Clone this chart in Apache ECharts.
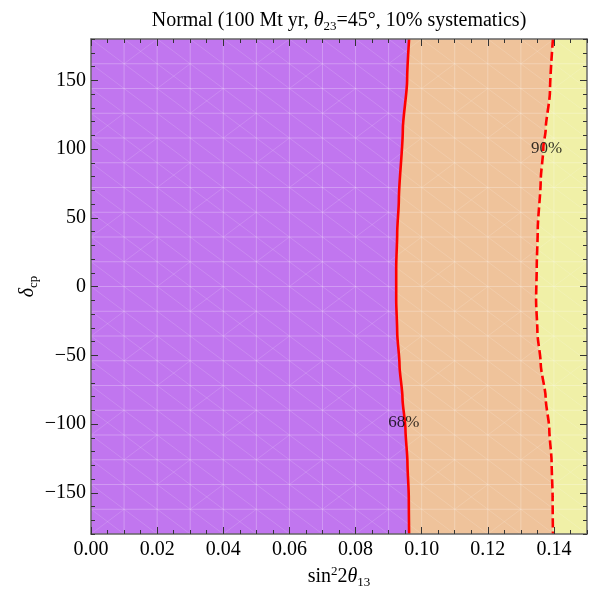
<!DOCTYPE html>
<html>
<head>
<meta charset="utf-8">
<script src="https://cdn.jsdelivr.net/npm/echarts@6/dist/echarts.min.js"></script>
<style>
  html, body { margin: 0; padding: 0; background: #ffffff; }
  #chart { width: 596px; height: 591px; }
</style>
</head>
<body>
<div id="chart"></div>
<script>
// Sensitivity contours in the (sin^2 2θ13, δcp) plane, listed from δcp = 180 down to −180
const delta68 = [180, 150, 114, 63, 39, 14, -10, -33, -57, -81, -104, -128, -153, -180];
const sin68   = [0.0962, 0.0956, 0.0943, 0.0931, 0.0926, 0.0923, 0.0923, 0.0926, 0.0933, 0.0942, 0.0951, 0.0957, 0.0961, 0.0962];
const delta90 = [180, 142, 114, 101, 77, 41, 14, -10, -33, -56, -81, -104, -128, -153, -180];
const sin90   = [0.1397, 0.1388, 0.1375, 0.1368, 0.1360, 0.1351, 0.1348, 0.1346, 0.1350, 0.1360, 0.1375, 0.1386, 0.1393, 0.1396, 0.1397];

// Contour labels
const contourNames = ['68%', '90%'];
const contourLabelSin = [0.0946, 0.1378];
const contourLabelDelta = [-99, 100];

// Axis ranges and tick labels
const sinRange = [0, 0.15];
const deltaRange = [-180, 180];
const sinTicks = [0, 0.02, 0.04, 0.06, 0.08, 0.10, 0.12, 0.14];
const deltaTicks = [-150, -100, -50, 0, 50, 100, 150];

const FONT = '"Liberation Serif", "Times New Roman", serif';
const FS = 20;
const regionColors = ['#c176ef', '#efc39b', '#f0f0a7'];

const c68 = delta68.map((d, i) => [sin68[i], d]);
const c90 = delta90.map((d, i) => [sin90[i], d]);

function regionPoints(k) {
  const [x0, x1] = sinRange;
  const [d0, d1] = deltaRange;
  if (k === 0) return [[x0, d1]].concat(c68, [[x0, d0]]);
  if (k === 1) return c68.concat(c90.slice().reverse());
  return c90.concat([[x1, d0], [x1, d1]]);
}

// Faint triangulation mesh drawn over the filled regions
function meshItem(params, api) {
  const children = [];
  const nx = 15, ny = 20;
  const dx = 0.01, dd = 18;
  const gridStyle = { stroke: 'rgba(255,255,255,0.26)', lineWidth: 1 };
  const diagStyle = { stroke: 'rgba(255,255,255,0.18)', lineWidth: 0.8 };
  const seg = (a, b, style) => {
    const p = api.coord(a), q = api.coord(b);
    children.push({ type: 'line', shape: { x1: p[0], y1: p[1], x2: q[0], y2: q[1] }, style });
  };
  for (let i = 1; i < nx; i++) seg([i * dx, deltaRange[0]], [i * dx, deltaRange[1]], gridStyle);
  for (let j = 1; j < ny; j++) seg([sinRange[0], deltaRange[0] + j * dd], [sinRange[1], deltaRange[0] + j * dd], gridStyle);
  for (let i = 0; i < nx; i++) {
    for (let j = 0; j < ny; j++) {
      const xa = i * dx, xb = (i + 1) * dx;
      const da = deltaRange[0] + j * dd, db = da + dd;
      seg([xa, db], [xb, da], diagStyle);
      if ((i + j) % 4 === 0) seg([xa, da], [xb, db], diagStyle);
    }
  }
  return { type: 'group', children };
}

const tickColor = '#333';
const frameLine = { show: true, onZero: false, lineStyle: { color: '#666', width: 1.5 } };

function xAxisPair(position) {
  return [
    {
      type: 'value', position, min: sinRange[0], max: sinRange[1], interval: 0.005, z: 10,
      axisLine: frameLine,
      axisTick: { show: true, inside: true, length: 4, lineStyle: { color: tickColor, width: 1 } },
      axisLabel: position === 'bottom' ? {
        show: true, customValues: sinTicks, margin: 6,
        formatter: v => v.toFixed(2),
        fontFamily: FONT, fontSize: FS, color: '#000'
      } : { show: false },
      splitLine: { show: false },
      name: position === 'bottom' ? 'sin{sup|2}2{it|θ}{sub|13}' : '',
      nameLocation: 'middle', nameGap: 31, nameMoveOverlap: false,
      nameTextStyle: {
        fontFamily: FONT, fontSize: FS, color: '#000', lineHeight: 24,
        rich: {
          sup: { fontFamily: FONT, fontSize: 13, lineHeight: 14, verticalAlign: 'top', color: '#000' },
          it: { fontFamily: FONT, fontSize: FS, fontStyle: 'italic', lineHeight: 24, color: '#000' },
          sub: { fontFamily: FONT, fontSize: 13, lineHeight: 14, verticalAlign: 'bottom', color: '#000' }
        }
      }
    },
    {
      type: 'value', position, min: sinRange[0], max: sinRange[1], z: 10,
      axisLine: { show: false, onZero: false },
      axisTick: { show: true, inside: true, length: 7, customValues: sinTicks, lineStyle: { color: tickColor, width: 1 } },
      axisLabel: { show: false },
      splitLine: { show: false }
    }
  ];
}

function yAxisPair(position) {
  return [
    {
      type: 'value', position, min: deltaRange[0], max: deltaRange[1], interval: 10, z: 10,
      axisLine: frameLine,
      axisTick: { show: true, inside: true, length: 4, lineStyle: { color: tickColor, width: 1 } },
      axisLabel: position === 'left' ? {
        show: true, customValues: deltaTicks, margin: 5,
        formatter: v => (v < 0 ? '\u2212' + Math.abs(v) : String(v)),
        fontFamily: FONT, fontSize: FS, color: '#000'
      } : { show: false },
      splitLine: { show: false },
      name: position === 'left' ? '{it|δ}{sub|cp}' : '',
      nameLocation: 'middle', nameRotate: 90, nameGap: 51, nameMoveOverlap: false,
      nameTextStyle: {
        fontFamily: FONT, fontSize: FS, color: '#000', lineHeight: 24,
        rich: {
          it: { fontFamily: FONT, fontSize: FS, fontStyle: 'italic', lineHeight: 24, color: '#000' },
          sub: { fontFamily: FONT, fontSize: 13, lineHeight: 14, verticalAlign: 'bottom', color: '#000' }
        }
      }
    },
    {
      type: 'value', position, min: deltaRange[0], max: deltaRange[1], z: 10,
      axisLine: { show: false, onZero: false },
      axisTick: { show: true, inside: true, length: 7, customValues: deltaTicks, lineStyle: { color: tickColor, width: 1 } },
      axisLabel: { show: false },
      splitLine: { show: false }
    }
  ];
}

const chart = echarts.init(document.getElementById('chart'), null, { renderer: 'canvas' });

chart.setOption({
  animation: false,
  backgroundColor: '#ffffff',
  grid: { left: 91, top: 39, width: 496, height: 495, containLabel: false, outerBoundsMode: 'none' },
  graphic: [{
    type: 'text', x: 339, y: 21, z: 10,
    style: {
      text: 'Normal (100 Mt yr, {it|θ}{sub|23}=45°, 10% systematics)',
      align: 'center', verticalAlign: 'middle',
      fontFamily: FONT, fontSize: FS, lineHeight: 24, fill: '#000',
      rich: {
        it: { fontFamily: FONT, fontSize: FS, fontStyle: 'italic', lineHeight: 24, fill: '#000' },
        sub: { fontFamily: FONT, fontSize: 13, lineHeight: 14, verticalAlign: 'bottom', fill: '#000' }
      }
    }
  }],
  xAxis: [...xAxisPair('bottom'), ...xAxisPair('top')],
  yAxis: [...yAxisPair('left'), ...yAxisPair('right')],
  series: [
    {
      type: 'custom', name: 'regions', z: 1, clip: true,
      data: [0, 1, 2],
      renderItem: (params, api) => ({
        type: 'polygon',
        shape: { points: regionPoints(api.value(0)).map(p => api.coord(p)) },
        style: { fill: regionColors[api.value(0)], stroke: regionColors[api.value(0)], lineWidth: 0.5 }
      })
    },
    {
      type: 'custom', name: 'mesh', z: 2, clip: true, silent: true,
      data: [0],
      renderItem: meshItem
    },
    {
      type: 'line', name: '68%', z: 3, data: c68, smooth: 0.25, smoothMonotone: 'y',
      showSymbol: false, symbol: 'none',
      lineStyle: { color: '#ff0000', width: 2.6 }
    },
    {
      type: 'line', name: '90%', z: 3, data: c90, smooth: 0.25, smoothMonotone: 'y',
      showSymbol: false, symbol: 'none',
      lineStyle: { color: '#ff0000', width: 2.6, type: [9, 4] }
    },
    {
      type: 'scatter', name: 'labels', z: 4, symbolSize: 0, silent: true,
      data: contourNames.map((n, i) => ({ name: n, value: [contourLabelSin[i], contourLabelDelta[i]] })),
      label: {
        show: true, position: 'inside', formatter: p => p.name,
        fontFamily: FONT, fontSize: 17, color: '#000'
      }
    }
  ]
});
</script>
</body>
</html>
